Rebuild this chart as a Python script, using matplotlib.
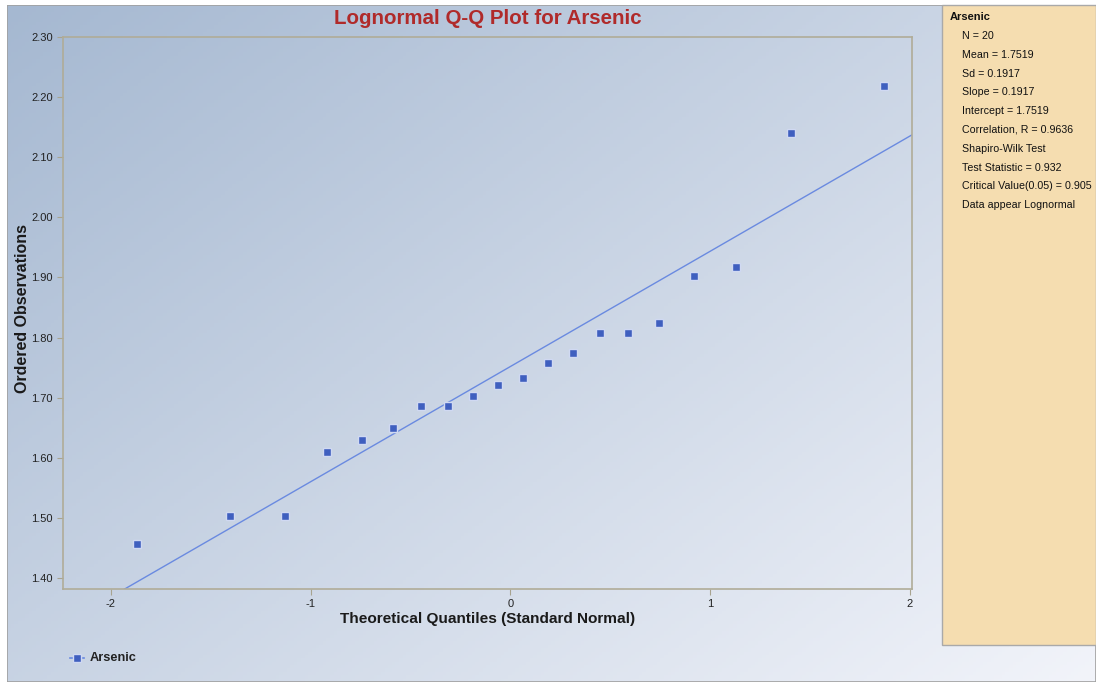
import matplotlib
matplotlib.use('Agg')
import matplotlib.pyplot as plt
import numpy as np
from matplotlib.patches import Rectangle

plt.rcParams['font.family'] = ['Liberation Sans', 'DejaVu Sans']

# normal quantiles (Blom) and ordered log observations for Arsenic
quantiles = [-1.868, -1.403, -1.128, -0.919, -0.745, -0.589, -0.448, -0.315, -0.187, -0.062,
             0.062, 0.187, 0.315, 0.448, 0.589, 0.745, 0.919, 1.128, 1.403, 1.868]
observed = [1.457, 1.503, 1.503, 1.609, 1.629, 1.649, 1.686, 1.686, 1.703, 1.721,
            1.732, 1.758, 1.775, 1.808, 1.808, 1.824, 1.902, 1.917, 2.140, 2.219]
slope = 0.1917
intercept = 1.7519
stats_lines = ['N = 20', 'Mean = 1.7519', 'Sd = 0.1917', 'Slope = 0.1917',
               'Intercept = 1.7519', 'Correlation, R = 0.9636', 'Shapiro-Wilk Test',
               'Test Statistic = 0.932', 'Critical Value(0.05) = 0.905',
               'Data appear Lognormal']
y_ticks = [1.40, 1.50, 1.60, 1.70, 1.80, 1.90, 2.00, 2.10, 2.20, 2.30]
x_ticks = [-2, -1, 0, 1, 2]

W, H = 1096, 682
fig = plt.figure(figsize=(W / 100, H / 100), dpi=100)
fig.patch.set_facecolor('white')

# gradient background
bg = fig.add_axes([7 / W, 0, 1 - 7 / W, 1 - 5 / H])
bg.set_axis_off()
gx, gy = np.meshgrid(np.linspace(0, 1, 300), np.linspace(0, 1, 200))
t = np.clip(0.55 * gx + 0.45 * gy, 0, 1)
c0 = np.array([165, 184, 209]) / 255
c1 = np.array([242, 244, 250]) / 255
img = c0[None, None, :] * (1 - t[..., None]) + c1[None, None, :] * t[..., None]
bg.imshow(img, aspect='auto', extent=[0, 1, 0, 1], origin='upper')
bg.set_xlim(0, 1)
bg.set_ylim(0, 1)
bg.add_patch(Rectangle((0, 0), 1, 1, transform=bg.transAxes, fill=False,
                       edgecolor='#A0A0A0', lw=1.2))

# stats panel
fig.patches.append(Rectangle((942 / W, 1 - 645 / H), (W - 942) / W, (645 - 5) / H,
                             transform=fig.transFigure, facecolor='#F5DDB0',
                             edgecolor='#A9A9A9', lw=1.0))
fig.text(950 / W, 1 - 17 / H, 'Arsenic', fontsize=8, fontweight='bold',
         va='center', ha='left', color='#111111')
for i, s in enumerate(stats_lines):
    fig.text(962 / W, 1 - (36 + i * 18.8) / H, s, fontsize=7.7, va='center',
             ha='left', color='#111111')

ax = fig.add_axes([63 / W, 1 - 589 / H, (912 - 63) / W, (589 - 37) / H])
ax.set_facecolor('none')
xlim = (-2.24, 2.01)
ylim = (1.3817, 2.30)
xs = np.array(xlim)
ax.plot(xs, intercept + slope * xs, color='#6A8AE0', lw=1.0, zorder=2)
ax.plot(quantiles, observed, linestyle='none', marker='s', markersize=6.3,
        markerfacecolor='#3F5FBF', markeredgecolor='#D0D9F2', markeredgewidth=1.0,
        zorder=3)
ax.set_xlim(*xlim)
ax.set_ylim(*ylim)
ax.set_xticks(x_ticks)
ax.set_xticklabels([str(v) for v in x_ticks])
ax.set_yticks(y_ticks)
ax.set_yticklabels(['%.2f' % v for v in y_ticks])
ax.tick_params(axis='both', labelsize=8, colors='#A8A490', labelcolor='#222222',
               length=4, width=0.8)
for sp in ax.spines.values():
    sp.set_color('#B0AC98')
    sp.set_linewidth(1.2)

fig.text(488 / W, 1 - 18 / H, 'Lognormal Q-Q Plot for Arsenic', fontsize=14.8,
         fontweight='bold', color='#B02A2A', ha='center', va='center')
fig.text(488 / W, 1 - 619 / H, 'Theoretical Quantiles (Standard Normal)', fontsize=11.1,
         fontweight='bold', color='#1A1A1A', ha='center', va='center')
fig.text(23 / W, 1 - 308 / H, 'Ordered Observations', fontsize=11.5, rotation=90,
         fontweight='bold', color='#1A1A1A', ha='center', va='center')

# legend
leg_y = 1 - 658 / H
fig.add_artist(plt.Line2D([70 / W, 84 / W], [leg_y, leg_y], color='#6A8AE0', lw=1.2,
                          transform=fig.transFigure))
fig.add_artist(plt.Line2D([77 / W], [leg_y], marker='s', markersize=6,
                          markerfacecolor='#3F5FBF', markeredgecolor='#D0D9F2',
                          transform=fig.transFigure))
fig.text(90 / W, leg_y, 'Arsenic', fontsize=9.2, fontweight='bold', color='#222222',
         va='center', ha='left')

fig.savefig('out.png', dpi=100)
